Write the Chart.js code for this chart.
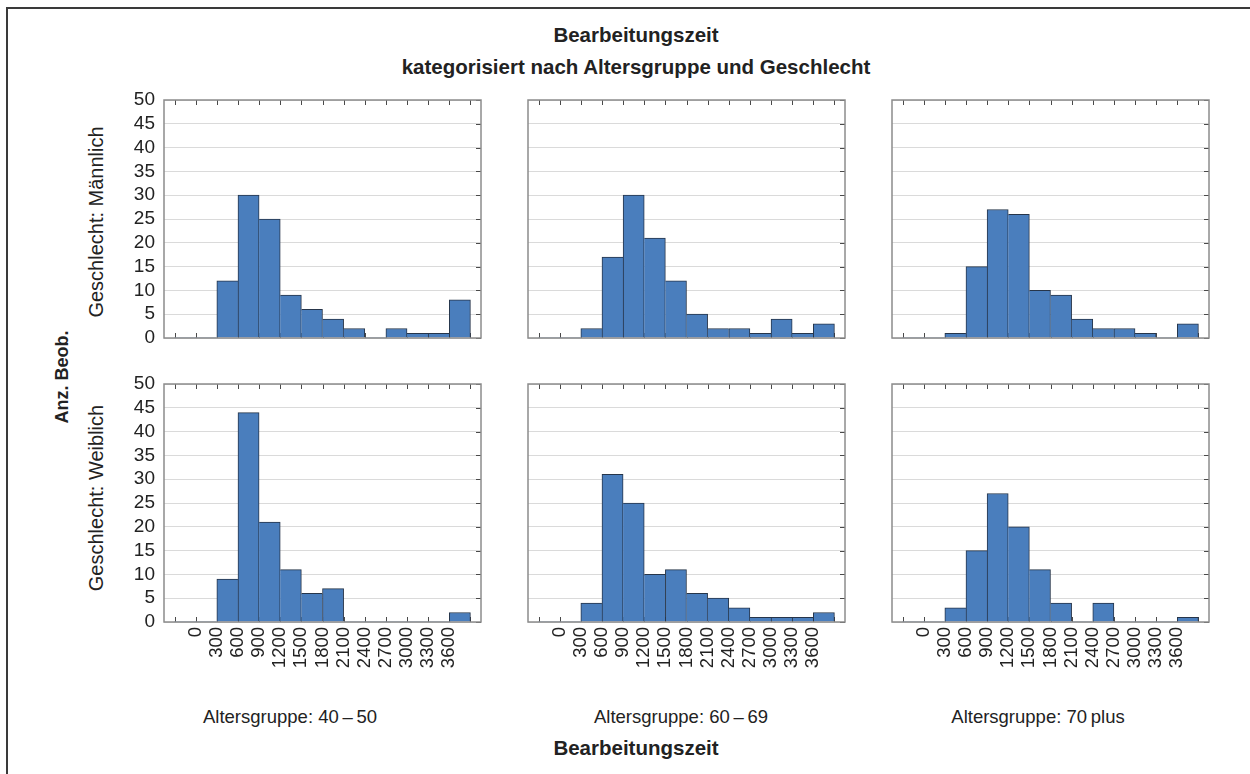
<!DOCTYPE html>
<html lang="de">
<head>
<meta charset="utf-8">
<title>Bearbeitungszeit – kategorisiert nach Altersgruppe und Geschlecht</title>
<script src="https://cdn.jsdelivr.net/npm/chart.js@4/dist/chart.umd.min.js"></script>
<style>
  html, body { margin: 0; padding: 0; background: #fff; }
  #page { position: relative; width: 1250px; height: 774px; overflow: hidden; background: #fff;
          font-family: 'Liberation Sans', Arial, Helvetica, sans-serif; color: #222; }
  #frame { position: absolute; left: 6px; top: 7px; width: 1400px; height: 900px;
           border-left: 2px solid #3a3a3a; border-top: 2px solid #3a3a3a; }
  .txt { position: absolute; white-space: nowrap; transform: translate(-50%, -50%); }
  .rot { transform: translate(-50%, -50%) rotate(-90deg); }
  .bold { font-weight: bold; }
  canvas { position: absolute; }
</style>
</head>
<body>
<div id="page">
  <div id="frame"></div>
  <div class="txt bold" style="left:636px; top:35px; font-size:20.5px;">Bearbeitungszeit</div>
  <div class="txt bold" style="left:636px; top:67px; font-size:20.5px;">kategorisiert nach Altersgruppe und Geschlecht</div>
  <div class="txt bold rot" style="left:62px; top:377px; font-size:18px;">Anz. Beob.</div>
  <div class="txt rot" id="row0" style="left:96px; top:222px; font-size:20px;"></div>
  <div class="txt rot" id="row1" style="left:96px; top:498px; font-size:20px;"></div>
  <div class="txt" id="col0" style="left:290px; top:717px; font-size:18.5px;"></div>
  <div class="txt" id="col1" style="left:681px; top:717px; font-size:18.5px;"></div>
  <div class="txt" id="col2" style="left:1038px; top:717px; font-size:18.5px;"></div>
  <div class="txt bold" style="left:636px; top:748px; font-size:20.5px;">Bearbeitungszeit</div>
</div>
<script>
// Bin edges (seconds) used for tick marks; labelled edges shown under the lower panels
const binEdges = [-300, 0, 300, 600, 900, 1200, 1500, 1800, 2100, 2400, 2700, 3000, 3300, 3600, 3900];
const binLabels = ['0', '300', '600', '900', '1200', '1500', '1800', '2100', '2400', '2700', '3000', '3300', '3600'];
// Bin centres: <=0, 0–300, 300–600, ..., 3300–3600, >3600
const binCenters = [-150, 150, 450, 750, 1050, 1350, 1650, 1950, 2250, 2550, 2850, 3150, 3450, 3750];

const ageGroups = ['Altersgruppe: 40\u2009\u2013\u200950', 'Altersgruppe: 60\u2009\u2013\u200969', 'Altersgruppe: 70\u2009plus'];
const sexes = ['Geschlecht: Männlich', 'Geschlecht: Weiblich'];

// Counts per bin (Anz. Beob.)
const maennlich4050 = [0, 0, 12, 30, 25, 9, 6, 4, 2, 0, 2, 1, 1, 8];
const maennlich6069 = [0, 0, 2, 17, 30, 21, 12, 5, 2, 2, 1, 4, 1, 3];
const maennlich70plus = [0, 0, 1, 15, 27, 26, 10, 9, 4, 2, 2, 1, 0, 3];
const weiblich4050 = [0, 0, 9, 44, 21, 11, 6, 7, 0, 0, 0, 0, 0, 2];
const weiblich6069 = [0, 0, 4, 31, 25, 10, 11, 6, 5, 3, 1, 1, 1, 2];
const weiblich70plus = [0, 0, 3, 15, 27, 20, 11, 4, 0, 4, 0, 0, 0, 1];

const yMin = 0, yMax = 50, yStep = 5;

const panels = [
  [maennlich4050, maennlich6069, maennlich70plus],
  [weiblich4050, weiblich6069, weiblich70plus]
];

document.getElementById('row0').textContent = sexes[0];
document.getElementById('row1').textContent = sexes[1];
ageGroups.forEach((g, i) => { document.getElementById('col' + i).textContent = g; });

Chart.defaults.font.family = "'Liberation Sans', Arial, Helvetica, sans-serif";
Chart.defaults.color = '#222';

// Plot-area geometry of the panel grid
const colLeft = [164, 528, 892];
const rowTop = [100, 384];
const plotW = 317, plotH = 238;
const yAxisW = 60, padTop = 10, padRight = 10, xAxisH = 75;

// Frame around each panel plus inward tick marks
const panelFrame = {
  id: 'panelFrame',
  beforeDatasetsDraw(chart) {
    const { ctx, chartArea: a, scales: { x, y } } = chart;
    ctx.save();
    ctx.strokeStyle = '#4a4a4a';
    ctx.lineWidth = 1;
    ctx.beginPath();
    x.ticks.forEach(t => {
      const px = Math.round(x.getPixelForValue(t.value)) + 0.5;
      ctx.moveTo(px, a.top); ctx.lineTo(px, a.top + 5);
      ctx.moveTo(px, a.bottom); ctx.lineTo(px, a.bottom - 5);
    });
    y.ticks.forEach(t => {
      const py = Math.round(y.getPixelForValue(t.value)) + 0.5;
      ctx.moveTo(a.right, py); ctx.lineTo(a.right - 5, py);
    });
    ctx.stroke();
    ctx.restore();
  },
  afterDraw(chart) {
    const { ctx, chartArea: a } = chart;
    ctx.save();
    ctx.strokeStyle = '#8c8c8c';
    ctx.lineWidth = 1.5;
    ctx.strokeRect(a.left, a.top, a.right - a.left, a.bottom - a.top);
    ctx.restore();
  }
};

// Shared edges between neighbouring bars are drawn once, by the taller bar
function barBorder(ctx) {
  const d = ctx.dataset.data;
  const i = ctx.dataIndex;
  const cur = d[i].y;
  if (!cur) return 0;
  const prev = i > 0 ? d[i - 1].y : 0;
  const next = i < d.length - 1 ? d[i + 1].y : 0;
  return { top: 1, bottom: 0, left: prev <= cur ? 1 : 0, right: next < cur ? 1 : 0 };
}

panels.forEach((row, r) => {
  row.forEach((counts, c) => {
    const bottomRow = r === panels.length - 1;
    const leftCol = c === 0;
    const canvas = document.createElement('canvas');
    const w = yAxisW + plotW + padRight;
    const h = padTop + plotH + (bottomRow ? xAxisH : 10);
    canvas.width = w; canvas.height = h;
    canvas.style.width = w + 'px'; canvas.style.height = h + 'px';
    canvas.style.left = (colLeft[c] - yAxisW) + 'px';
    canvas.style.top = (rowTop[r] - padTop) + 'px';
    document.getElementById('page').appendChild(canvas);

    new Chart(canvas, {
      type: 'bar',
      data: {
        datasets: [{
          data: binCenters.map((x, i) => ({ x: x, y: counts[i] })),
          backgroundColor: '#4a7ebd',
          borderColor: '#26354a',
          borderWidth: barBorder,
          borderSkipped: false,
          barPercentage: 1,
          categoryPercentage: 1
        }]
      },
      options: {
        responsive: false,
        animation: false,
        events: [],
        layout: { padding: { top: padTop, right: padRight, bottom: bottomRow ? 0 : 10, left: 0 } },
        plugins: { legend: { display: false }, tooltip: { enabled: false }, title: { display: false } },
        scales: {
          x: {
            type: 'linear',
            offset: false,
            min: -450,
            max: 4050,
            bounds: 'data',
            afterBuildTicks: axis => { axis.ticks = binEdges.map(v => ({ value: v })); },
            afterFit: axis => {
              axis.height = bottomRow ? xAxisH : 0;
              axis.paddingLeft = 0; axis.paddingRight = 0;
            },
            grid: { display: false, drawTicks: false, offset: false },
            border: { display: false },
            ticks: {
              display: bottomRow,
              autoSkip: false,
              minRotation: 90,
              maxRotation: 90,
              padding: 5,
              font: { size: 18.5 },
              color: '#222',
              callback: v => (binLabels.includes(String(v)) ? String(v) : '')
            }
          },
          y: {
            min: yMin,
            max: yMax,
            afterFit: axis => {
              axis.width = yAxisW;
              axis.paddingTop = 0; axis.paddingBottom = 0;
            },
            grid: { color: '#dadada', lineWidth: 1, drawTicks: false },
            border: { display: false },
            ticks: {
              display: leftCol,
              autoSkip: false,
              stepSize: yStep,
              padding: 9,
              font: { size: 19 },
              color: '#222'
            }
          }
        }
      },
      plugins: [panelFrame]
    });
  });
});
</script>
</body>
</html>
